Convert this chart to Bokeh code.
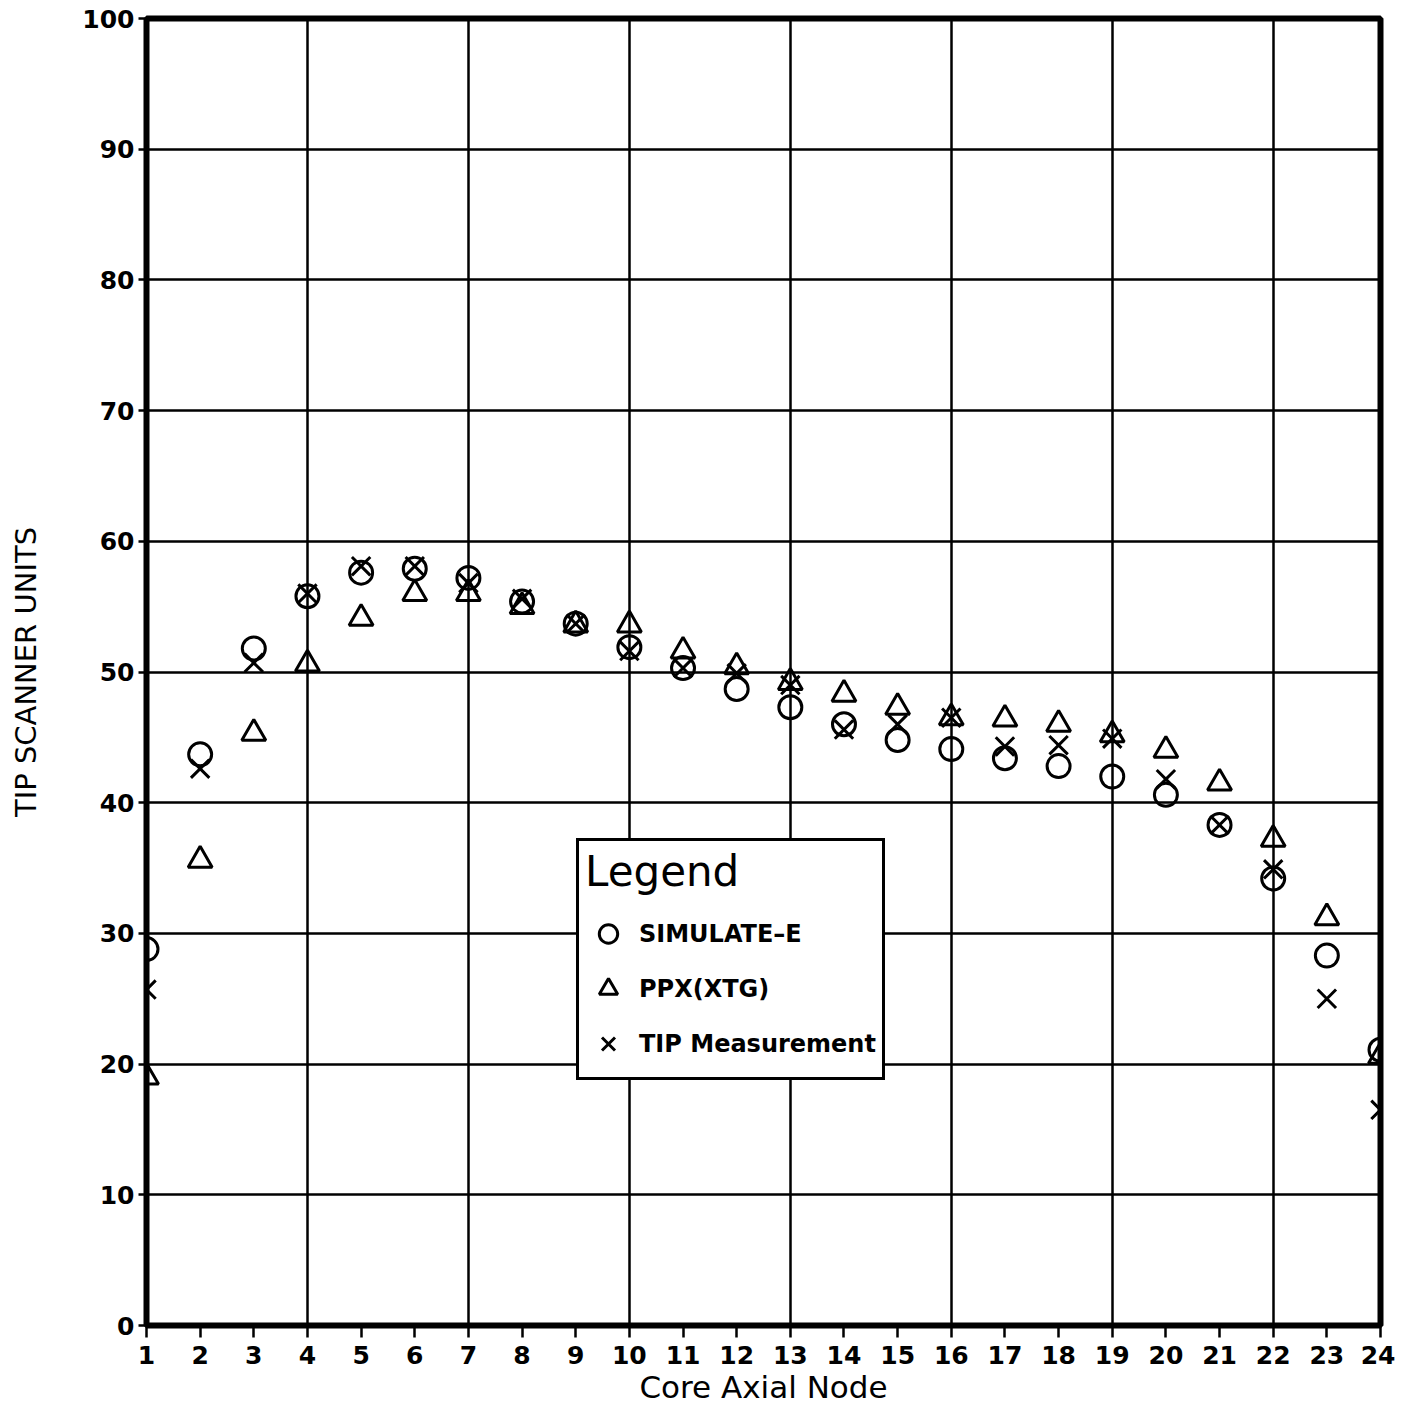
from bokeh.plotting import figure
from bokeh.models import Range1d, FixedTicker, Legend, LegendItem, ColumnDataSource
from bokeh.embed import file_html
from bokeh.resources import INLINE

nodes = list(range(1, 25))
simulate_e = [28.8, 43.7, 51.8, 55.8, 57.6, 57.9, 57.2, 55.4, 53.7, 51.9, 50.3, 48.7,
              47.3, 46.0, 44.8, 44.1, 43.4, 42.8, 42.0, 40.6, 38.3, 34.2, 28.3, 21.1]
ppx_xtg = [19.0, 35.6, 45.3, 50.6, 54.1, 56.0, 56.0, 55.0, 53.6, 53.6, 51.6, 50.4,
           49.2, 48.3, 47.3, 46.5, 46.4, 46.0, 45.2, 44.0, 41.5, 37.2, 31.2, 20.6]
tip_meas = [25.7, 42.6, 50.7, 56.0, 58.1, 58.1, 56.8, 55.6, 53.7, 51.6, 50.3, 49.9,
            49.0, 45.6, 46.0, 46.5, 44.3, 44.4, 44.9, 41.8, 38.3, 34.9, 25.0, 16.5]
y_ticks = list(range(0, 101, 10))
x_grid_nodes = [4, 7, 10, 13, 16, 19, 22]

src = ColumnDataSource(dict(x=nodes, sim=simulate_e, ppx=ppx_xtg, tip=tip_meas))

p = figure(width=1395, height=1412, output_backend="svg", toolbar_location=None,
           x_range=Range1d(1, 24), y_range=Range1d(0, 100),
           min_border_left=146, min_border_right=15, min_border_top=18,
           min_border_bottom=87, background_fill_color="white")

p.outline_line_color = "black"
p.outline_line_width = 6

# grid
p.xgrid.ticker = FixedTicker(ticks=x_grid_nodes)
p.ygrid.ticker = FixedTicker(ticks=y_ticks)
for g in (p.xgrid[0], p.ygrid[0]):
    g.grid_line_color = "black"
    g.grid_line_width = 2.5
    g.grid_line_alpha = 1.0

FONT = "DejaVu Sans"
p.xaxis.ticker = FixedTicker(ticks=nodes)
p.yaxis.ticker = FixedTicker(ticks=y_ticks)
for ax in (p.xaxis[0], p.yaxis[0]):
    ax.axis_line_color = None
    ax.major_tick_line_color = "black"
    ax.major_tick_line_width = 2.5
    ax.major_tick_in = 0
    ax.minor_tick_line_color = None
    ax.major_label_text_font = FONT
    ax.major_label_text_font_style = "bold"
    ax.major_label_text_font_size = "25px"
    ax.major_label_text_color = "black"
    ax.axis_label_text_font = FONT
    ax.axis_label_text_font_style = "normal"
    ax.axis_label_text_color = "black"

p.xaxis.major_tick_out = 12
p.yaxis.major_tick_out = 8
p.xaxis.major_label_standoff = 8
p.yaxis.major_label_standoff = 4
p.xaxis.axis_label = "Core Axial Node"
p.xaxis.axis_label_text_font_size = "31px"
p.xaxis.axis_label_standoff = 2
p.yaxis.axis_label = "TIP SCANNER UNITS"
p.yaxis.axis_label_text_font_size = "29px"
p.yaxis.axis_label_standoff = 36

r_sim = p.scatter("x", "sim", source=src, marker="circle", size=23,
                  fill_color=None, line_color="black", line_width=3)
r_ppx = p.scatter("x", "ppx", source=src, marker="triangle", size=24,
                  fill_color=None, line_color="black", line_width=3)
r_tip = p.scatter("x", "tip", source=src, marker="x", size=26,
                  line_color="black", line_width=3)

legend = Legend(items=[LegendItem(label="SIMULATE\u2013E", renderers=[r_sim]),
                       LegendItem(label="PPX(XTG)", renderers=[r_ppx]),
                       LegendItem(label="TIP Measurement", renderers=[r_tip])],
                location=(430, 245), title="Legend")
legend.title_text_font = FONT
legend.title_text_font_size = "42px"
legend.title_text_font_style = "normal"
legend.title_text_color = "black"
legend.title_standoff = 10
legend.label_text_font = FONT
legend.label_text_font_size = "24px"
legend.label_text_font_style = "bold"
legend.label_text_color = "black"
legend.border_line_color = "black"
legend.border_line_alpha = 1.0
legend.border_line_width = 3
legend.background_fill_color = "white"
legend.background_fill_alpha = 1.0
legend.glyph_width = 46
legend.glyph_height = 55
legend.label_standoff = 8
legend.padding = 6
legend.spacing = 0
legend.margin = 0
p.add_layout(legend, "center")

open("out.html", "w").write(file_html(p, INLINE))
